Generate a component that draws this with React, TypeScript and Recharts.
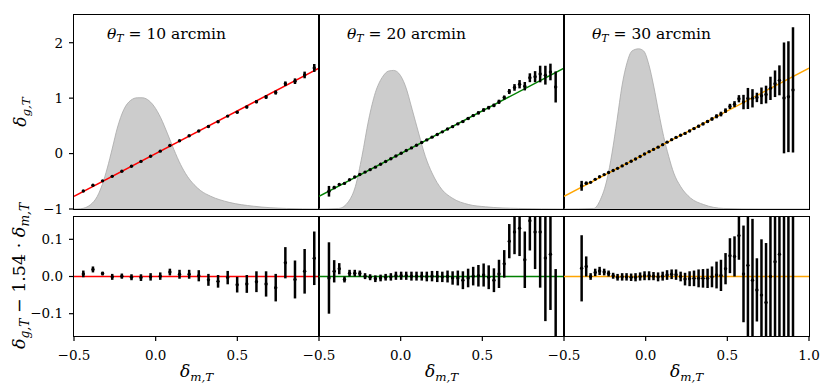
import React from "react";
import { ComposedChart, Area, Line, Scatter, ErrorBar, XAxis, YAxis } from "recharts";

const FONT = "'DejaVu Serif', serif";
const SLOPE = 1.54;

// theta_T = 10 arcmin : bin centres, residuals, errors
const dm10 = [-0.443, -0.384, -0.325, -0.266, -0.207, -0.148, -0.09, -0.031, 0.028, 0.087, 0.146, 0.205, 0.264, 0.323, 0.382, 0.441, 0.499, 0.558, 0.617, 0.676, 0.735, 0.794, 0.853, 0.912, 0.971];
const res10 = [0.007, 0.019, 0.008, -0.001, 0.001, -0.002, -0.003, -0.001, 0.001, 0.012, 0.006, 0.006, 0.002, -0.009, -0.013, -0.003, -0.022, -0.02, -0.014, -0.02, -0.03, 0.037, -0.008, 0.014, 0.049];
const err10 = [0.009, 0.008, 0.005, 0.008, 0.007, 0.008, 0.009, 0.01, 0.01, 0.009, 0.012, 0.012, 0.015, 0.016, 0.017, 0.018, 0.021, 0.024, 0.028, 0.034, 0.037, 0.042, 0.051, 0.06, 0.072];

// theta_T = 20 arcmin
const dm20 = [-0.439, -0.407, -0.376, -0.344, -0.313, -0.281, -0.25, -0.218, -0.187, -0.155, -0.123, -0.092, -0.06, -0.029, 0.003, 0.034, 0.066, 0.097, 0.129, 0.16, 0.192, 0.224, 0.255, 0.287, 0.318, 0.35, 0.381, 0.413, 0.444, 0.476, 0.508, 0.539, 0.571, 0.602, 0.634, 0.665, 0.697, 0.728, 0.76, 0.791, 0.823, 0.854, 0.886, 0.917, 0.949];
const res20 = [-0.004, 0.014, 0.021, -0.008, 0.009, 0.009, 0.008, 0.001, -0.002, -0.006, -0.004, -0.002, -0.001, 0.002, 0.002, 0.002, 0.001, 0.001, 0.001, 0.0, 0.001, 0.0, -0.001, 0.0, -0.004, -0.004, -0.01, -0.004, 0.001, 0.002, 0.004, -0.002, -0.01, 0.007, 0.034, 0.095, 0.12, 0.13, 0.045, 0.15, 0.12, 0.12, 0.05, 0.06, -0.26];
const err20 = [0.096, 0.03, 0.015, 0.008, 0.009, 0.009, 0.008, 0.008, 0.008, 0.009, 0.009, 0.009, 0.01, 0.011, 0.011, 0.011, 0.012, 0.012, 0.012, 0.013, 0.014, 0.015, 0.014, 0.016, 0.018, 0.02, 0.024, 0.025, 0.025, 0.029, 0.031, 0.032, 0.032, 0.038, 0.037, 0.046, 0.06, 0.075, 0.076, 0.08, 0.1, 0.15, 0.17, 0.15, 0.28];

// theta_T = 30 arcmin
const dm30 = [-0.392, -0.364, -0.337, -0.309, -0.282, -0.254, -0.227, -0.199, -0.172, -0.144, -0.117, -0.089, -0.062, -0.034, -0.007, 0.021, 0.048, 0.076, 0.104, 0.131, 0.159, 0.186, 0.214, 0.241, 0.269, 0.296, 0.324, 0.351, 0.379, 0.406, 0.434, 0.461, 0.489, 0.516, 0.544, 0.571, 0.599, 0.626, 0.654, 0.681, 0.709, 0.737, 0.764, 0.792, 0.819, 0.847, 0.874, 0.902];
const res30 = [0.022, 0.027, 0.0, 0.011, 0.015, 0.012, 0.008, 0.002, -0.002, -0.001, -0.001, -0.002, -0.002, 0.0, 0.002, 0.002, 0.001, -0.001, 0.001, 0.004, 0.006, 0.005, 0.0, -0.007, -0.006, -0.005, -0.005, -0.005, -0.005, -0.001, 0.004, 0.003, 0.021, 0.056, 0.054, 0.11, 0.007, 0.03, -0.01, -0.036, -0.05, -0.07, 0.0, 0.04, 0.06, -0.3, -0.32, -0.24];
const err30 = [0.089, 0.027, 0.009, 0.01, 0.011, 0.009, 0.008, 0.008, 0.009, 0.01, 0.01, 0.01, 0.011, 0.011, 0.012, 0.012, 0.011, 0.012, 0.012, 0.013, 0.013, 0.014, 0.013, 0.017, 0.02, 0.021, 0.024, 0.025, 0.026, 0.028, 0.036, 0.042, 0.042, 0.047, 0.054, 0.065, 0.13, 0.19, 0.165, 0.085, 0.15, 0.16, 0.21, 0.24, 0.27, 1.0, 1.0, 1.13];

// rescaled PDF of delta_m (grey shading)
const pdfX10 = [-0.5, -0.459, -0.398, -0.357, -0.327, -0.296, -0.265, -0.235, -0.194, -0.153, -0.112, -0.082, -0.051, -0.01, 0.031, 0.071, 0.112, 0.153, 0.194, 0.235, 0.276, 0.337, 0.45, 0.6, 0.8, 1.0];
const pdfY10 = [-1.0, -0.995, -0.92, -0.77, -0.56, -0.26, 0.1, 0.46, 0.8, 0.96, 1.007, 1.007, 0.976, 0.855, 0.645, 0.37, 0.07, -0.2, -0.41, -0.56, -0.67, -0.77, -0.88, -0.95, -0.99, -1.0];
const pdfX20 = [-0.5, -0.379, -0.318, -0.277, -0.237, -0.196, -0.155, -0.114, -0.073, -0.043, -0.012, 0.029, 0.07, 0.11, 0.151, 0.192, 0.253, 0.314, 0.417, 0.519, 0.723, 1.0];
const pdfY20 = [-1.0, -0.99, -0.86, -0.59, -0.05, 0.61, 1.1, 1.37, 1.49, 1.5, 1.45, 1.22, 0.8, 0.37, -0.05, -0.35, -0.65, -0.8, -0.92, -0.96, -0.99, -1.0];
const pdfX30 = [-0.5, -0.318, -0.277, -0.237, -0.206, -0.175, -0.145, -0.114, -0.084, -0.043, -0.012, 0.019, 0.049, 0.08, 0.11, 0.141, 0.172, 0.213, 0.274, 0.355, 0.478, 0.7, 1.0];
const pdfY30 = [-1.0, -0.99, -0.83, -0.47, 0.01, 0.61, 1.22, 1.64, 1.85, 1.89, 1.85, 1.61, 1.22, 0.74, 0.31, -0.05, -0.35, -0.59, -0.8, -0.92, -0.99, -1.0, -1.0];

const thetas = [10, 20, 30];
const colors = ["red", "green", "orange"];
const topTicks = [-1, 0, 1, 2];
const resTicks = [-0.1, 0, 0.1];
const xTicksInner = [-0.5, 0, 0.5];
const xTicksLast = [-0.5, 0, 0.5, 1.0];

const fmt = (d: number) => (v: number) => (v < 0 ? "\u2212" : "") + Math.abs(v).toFixed(d);

const dot = (p: any) => <circle cx={p.cx} cy={p.cy} r={1.7} fill='#000' />;

// plot rectangles (page px)
const colLeft = [74, 319, 564];
const colW = 245;
const topY = 15,
  topH = 194;
const botY = 217,
  botH = 119;

function Panel(props: any) {
  const { left, top, width, height, yDomain, yTicks, yDigits, showY, xTicks, pts, fit, pdf, color } = props;
  const mT = 20,
    mR = 30;
  const yW = showY ? 30 : 0;
  const mL = 60 - yW;
  const xH = xTicks ? 45 : 0;
  const mB = xTicks ? 0 : 10;
  const tickStyle = { fill: "#000", fontSize: 13.5, fontFamily: FONT };
  const hasAxes = showY || !!xTicks;

  return (
    <>
      {hasAxes && (
        <div style={{ position: "absolute", left: left - 60, top: top - mT }}>
          <ComposedChart
            width={60 + width + mR}
            height={mT + height + xH + mB}
            margin={{ top: mT, right: mR, bottom: mB, left: mL }}
          >
            <XAxis
              dataKey='x'
              type='number'
              domain={[-0.5, 1]}
              allowDataOverflow
              hide={!xTicks}
              ticks={xTicks || undefined}
              interval={0}
              height={xH}
              tickFormatter={fmt(1)}
              axisLine={false}
              tickLine={{ stroke: "#000", strokeWidth: 1.2 }}
              tickSize={5}
              tickMargin={9}
              tick={tickStyle}
            />
            <YAxis
              dataKey='y'
              type='number'
              domain={yDomain}
              allowDataOverflow
              hide={!showY}
              width={yW}
              ticks={yTicks}
              interval={0}
              tickFormatter={fmt(yDigits)}
              axisLine={false}
              tickLine={{ stroke: "#000", strokeWidth: 1.2 }}
              tickSize={5}
              tickMargin={6}
              tick={tickStyle}
            />
            <Line data={fit} dataKey='y' stroke='none' dot={false} isAnimationActive={false} />
          </ComposedChart>
        </div>
      )}
      {/* data layer, clipped to the plot box */}
      <div style={{ position: "absolute", left, top, width, height, overflow: "hidden" }}>
        <ComposedChart width={width} height={height} margin={{ top: 0, right: 0, bottom: 0, left: 0 }}>
          <XAxis dataKey='x' type='number' domain={[-0.5, 1]} allowDataOverflow hide />
          <YAxis dataKey='y' type='number' domain={yDomain} allowDataOverflow hide />
          {pdf && (
            <Area
              data={pdf}
              dataKey='y'
              type='monotone'
              baseValue={yDomain[0]}
              fill='#cccccc'
              fillOpacity={1}
              stroke='#a8a8a8'
              strokeWidth={0.8}
              isAnimationActive={false}
            />
          )}
          <Line data={fit} dataKey='y' stroke={color} strokeWidth={1.5} dot={false} isAnimationActive={false} />
          <Scatter data={pts} dataKey='y' shape={dot} isAnimationActive={false}>
            <ErrorBar dataKey='err' direction='y' width={0} stroke='#000' strokeWidth={2.5} />
          </Scatter>
        </ComposedChart>
      </div>
      <div
        style={{
          position: "absolute",
          left: left - 0.75,
          top: top - 0.75,
          width: width + 1.5,
          height: height + 1.5,
          border: "1.5px solid #000",
          boxSizing: "border-box",
        }}
      />
    </>
  );
}

const Sub = ({ children }: any) => (
  <span style={{ fontSize: "0.7em", fontStyle: "italic", position: "relative", top: "0.3em" }}>{children}</span>
);

export default function App() {
  const sets = [
    { dm: dm10, res: res10, err: err10, px: pdfX10, py: pdfY10 },
    { dm: dm20, res: res20, err: err20, px: pdfX20, py: pdfY20 },
    { dm: dm30, res: res30, err: err30, px: pdfX30, py: pdfY30 },
  ];
  const fitTop = [-0.5, 1].map((x) => ({ x, y: SLOPE * x }));
  const fitRes = [-0.5, 1].map((x) => ({ x, y: 0 }));

  return (
    <div
      style={{
        position: "absolute",
        left: 0,
        top: 0,
        width: 830,
        height: 388,
        overflow: "hidden",
        background: "#fff",
        fontFamily: FONT,
        color: "#000",
      }}
    >
      {sets.map((s, i) => {
        const topPts = s.dm.map((x, k) => ({ x, y: SLOPE * x + s.res[k], err: s.err[k] }));
        const resPts = s.dm.map((x, k) => ({ x, y: s.res[k], err: s.err[k] }));
        const pdf = s.px.map((x, k) => ({ x, y: s.py[k] }));
        return (
          <React.Fragment key={i}>
            <Panel
              left={colLeft[i]}
              top={topY}
              width={colW}
              height={topH}
              yDomain={[-1, 2.5]}
              yTicks={topTicks}
              yDigits={0}
              showY={i === 0}
              xTicks={null}
              pts={topPts}
              fit={fitTop}
              pdf={pdf}
              color={colors[i]}
            />
            <Panel
              left={colLeft[i]}
              top={botY}
              width={colW}
              height={botH}
              yDomain={[-0.16, 0.16]}
              yTicks={resTicks}
              yDigits={1}
              showY={i === 0}
              xTicks={i === 2 ? xTicksLast : xTicksInner}
              pts={resPts}
              fit={fitRes}
              pdf={null}
              color={colors[i]}
            />
            <div
              style={{
                position: "absolute",
                left: colLeft[i] + (i === 0 ? 33 : 28),
                top: 27,
                fontSize: 15.5,
                lineHeight: 1,
                whiteSpace: "nowrap",
              }}
            >
              <i>θ</i>
              <Sub>T</Sub> = {thetas[i]} arcmin
            </div>
            <div
              style={{
                position: "absolute",
                left: colLeft[i] + colW / 2,
                top: 371,
                transform: "translate(-50%, -50%)",
                fontSize: 17,
                lineHeight: 1,
                whiteSpace: "nowrap",
              }}
            >
              <i>δ</i>
              <Sub>m,T</Sub>
            </div>
          </React.Fragment>
        );
      })}
      <div
        style={{
          position: "absolute",
          left: 20,
          top: 112,
          transform: "translate(-50%, -50%) rotate(-90deg)",
          fontSize: 17,
          lineHeight: 1,
          whiteSpace: "nowrap",
        }}
      >
        <i>δ</i>
        <Sub>g,T</Sub>
      </div>
      <div
        style={{
          position: "absolute",
          left: 20,
          top: 276,
          transform: "translate(-50%, -50%) rotate(-90deg)",
          fontSize: 17.5,
          lineHeight: 1,
          whiteSpace: "nowrap",
        }}
      >
        <i>δ</i>
        <Sub>g,T</Sub> − 1.54 · <i>δ</i>
        <Sub>m,T</Sub>
      </div>
    </div>
  );
}
